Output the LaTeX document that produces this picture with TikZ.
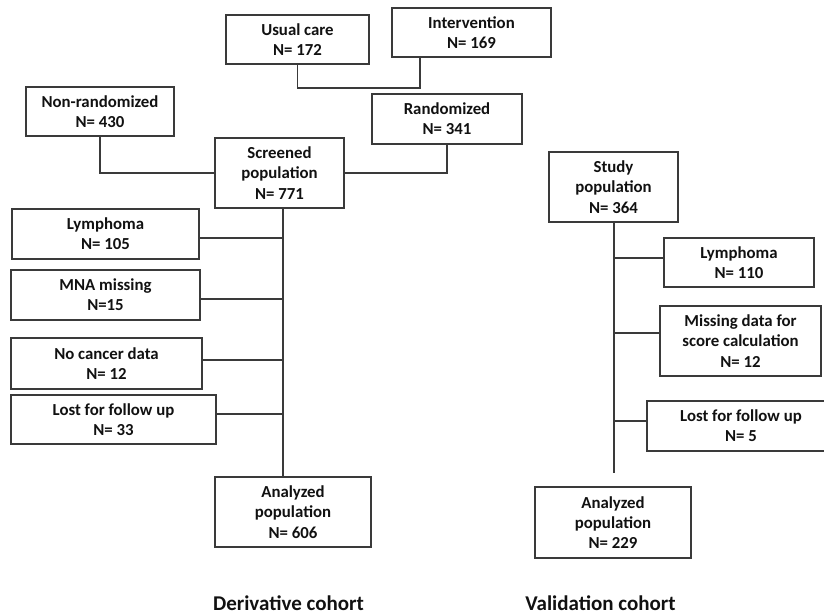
\documentclass[tikz,border=0pt]{standalone}
\usepackage{fontspec}
\setmainfont{Carlito}
\definecolor{ln}{HTML}{3A3A3A}
\definecolor{tx}{HTML}{111111}
\begin{document}
\begin{tikzpicture}[x=1pt,y=-1pt,
  box/.style={draw=ln,line width=1.4pt,fill=white,inner sep=0pt,align=center,
    text=tx,font=\fontsize{16.8}{20.3}\selectfont\bfseries},
  conn/.style={draw=ln,line width=1.4pt},
  cohort/.style={anchor=base,inner sep=0pt,text=tx,font=\fontsize{21}{25}\selectfont\bfseries}]
\useasboundingbox (0,0) rectangle (824,615);
\fill[white] (0,0) rectangle (824,615);
% derivative cohort
\node[box,minimum width=143pt,minimum height=49pt] (usual) at (297.5,39.5) {Usual care\\N= 172};
\node[box,minimum width=159pt,minimum height=49pt] (interv) at (471.5,32.5) {Intervention\\N= 169};
\node[box,minimum width=148pt,minimum height=49pt] (nonrand) at (100,111.5) {Non-randomized\\N= 430};
\node[box,minimum width=150pt,minimum height=50pt] (rand) at (447,119) {Randomized\\N= 341};
\node[box,minimum width=129pt,minimum height=70pt] (screened) at (279.5,173) {Screened\\population\\N= 771};
\node[box,minimum width=187pt,minimum height=50pt] (lymph) at (105.5,234) {Lymphoma\\N= 105};
\node[box,minimum width=189pt,minimum height=50pt] (mna) at (105.5,295) {MNA missing\\N=15};
\node[box,minimum width=191pt,minimum height=51pt] (nocancer) at (106.5,363.5) {No cancer data\\N= 12};
\node[box,minimum width=205pt,minimum height=49pt] (lost) at (113.5,419.5) {Lost for follow up\\N= 33};
\node[box,minimum width=156pt,minimum height=70pt] (anal) at (293,512) {Analyzed\\population\\N= 606};
% validation cohort
\node[box,minimum width=129pt,minimum height=70pt] (study) at (613.5,187) {Study\\population\\N= 364};
\node[box,minimum width=150pt,minimum height=49pt] (lymph2) at (739,262.5) {Lymphoma\\N= 110};
\node[box,minimum width=161pt,minimum height=70pt] (missing) at (740.5,341) {Missing data for\\score calculation\\N= 12};
\node[box,minimum width=188pt,minimum height=50pt] (lost2) at (741,426) {Lost for follow up\\N= 5};
\node[box,minimum width=156pt,minimum height=71pt] (anal2) at (613,522.5) {Analyzed\\population\\N= 229};
% connector points
\coordinate (j1) at (420,88);
\coordinate (dspine) at (283,477);
\coordinate (vspine) at (614,473);
% connectors
\draw[conn] (usual.south) |- (j1) -- (j1 |- interv.south);
\draw[conn] (nonrand.south) |- (screened.west);
\draw[conn] (rand.south) |- (screened.east);
\draw[conn] (screened.south -| dspine) -- (anal.north -| dspine);
\draw[conn] (lymph.east |- 0,238) -- (dspine |- 0,238);
\draw[conn] (mna.east |- 0,299) -- (dspine |- 0,299);
\draw[conn] (nocancer.east |- 0,360) -- (dspine |- 0,360);
\draw[conn] (lost.east |- 0,414) -- (dspine |- 0,414);
\draw[conn] (study.south -| vspine) -- (vspine);
\draw[conn] (lymph2.west |- 0,258) -- (vspine |- 0,258);
\draw[conn] (missing.west |- 0,333) -- (vspine |- 0,333);
\draw[conn] (lost2.west |- 0,421) -- (vspine |- 0,421);
% cohort labels
\node[cohort] (dlabel) at (288.5,610) {Derivative cohort};
\node[cohort] (vlabel) at (600.5,610) {Validation cohort};
\end{tikzpicture}
\end{document}
